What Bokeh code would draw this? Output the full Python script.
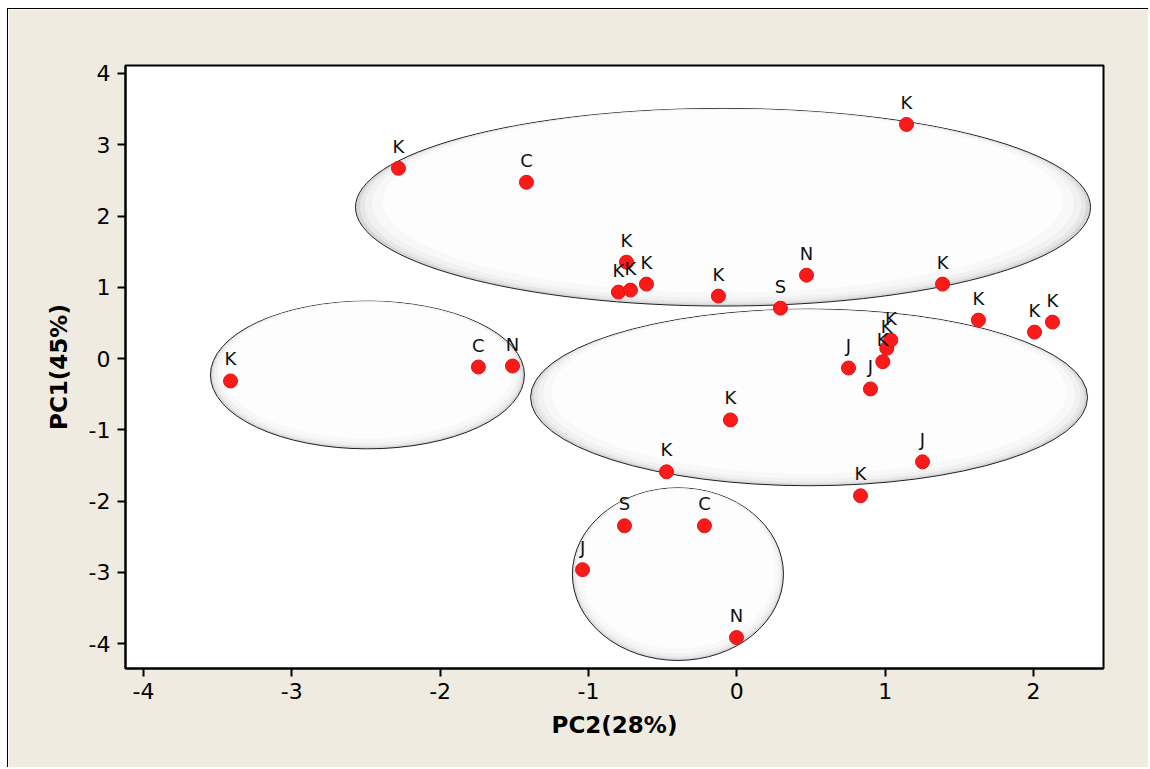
from bokeh.plotting import figure
from bokeh.models import Range1d, ColumnDataSource, FixedTicker
from bokeh.embed import file_html
from bokeh.resources import INLINE
from bokeh.core.properties import value

# data
pc2 = [-3.413, -2.281, -1.418, -1.742, -1.512, -0.744, -0.798, -0.717, -0.609, -0.124,
       0.470, 0.294, 1.144, 1.387, 1.629, 2.007, 2.128, 0.753, 0.901, 0.984, 1.011, 1.038,
       -0.043, -0.474, 1.252, 0.834, -0.757, -0.218, -1.040, -0.002]
pc1 = [-0.315, 2.669, 2.473, -0.119, -0.105, 1.352, 0.932, 0.960, 1.044, 0.876,
       1.170, 0.707, 3.285, 1.044, 0.539, 0.371, 0.511, -0.133, -0.427, -0.045, 0.143, 0.259,
       -0.862, -1.590, -1.450, -1.926, -2.347, -2.347, -2.963, -3.916]
labels = ["K", "K", "C", "C", "N", "K", "K", "K", "K", "K",
          "N", "S", "K", "K", "K", "K", "K", "J", "J", "K", "K", "K",
          "K", "K", "J", "K", "S", "C", "J", "N"]

ell_x = [-0.093, -2.490, 0.487, -0.397]
ell_y = [2.123, -0.231, -0.546, -3.026]
ell_w = [4.955, 2.117, 3.755, 1.423]
ell_h = [2.774, 2.074, 2.480, 2.424]

x_ticks = [-4, -3, -2, -1, 0, 1, 2]
y_ticks = [-4, -3, -2, -1, 0, 1, 2, 3, 4]

BG = "#efebe1"

p = figure(width=1141, height=759, output_backend="svg", toolbar_location=None,
           x_range=Range1d(-4.121, 2.472), y_range=Range1d(-4.35, 4.112),
           min_border_left=117, min_border_top=56, min_border_right=46, min_border_bottom=100)
p.border_fill_color = BG
p.background_fill_color = "white"
p.outline_line_color = "black"
p.outline_line_width = 2
p.grid.visible = False

# ellipses with simulated glossy shading
layers = [(1.0, "#d6d6d8"), (0.988, "#e7e7e9"), (0.975, "#f1f1f2"), (0.955, "#f8f8f9"), (0.925, "#fdfdfd")]
for scale, col in layers:
    src = ColumnDataSource(dict(x=ell_x, y=[yy + (1 - scale) * hh * 0.4 for yy, hh in zip(ell_y, ell_h)],
                                w=[w * scale for w in ell_w], h=[h * scale for h in ell_h]))
    if scale == 1.0:
        p.ellipse(x="x", y="y", width="w", height="h", source=src, fill_color=col,
                  line_color="#222222", line_width=1)
    else:
        p.ellipse(x="x", y="y", width="w", height="h", source=src, fill_color=col,
                  line_color=None)

src = ColumnDataSource(dict(x=pc2, y=pc1, t=labels))
p.scatter(x="x", y="y", source=src, size=14, fill_color="#fa1a1a", line_color="#e81212", line_width=1)
p.text(x="x", y="y", text="t", source=src, text_align="center", text_baseline="alphabetic",
       y_offset=-22, text_font=value("DejaVu Sans"), text_font_size="18px", text_color="#111111")

for ax in (p.xaxis[0], p.yaxis[0]):
    ax.axis_line_width = 2
    ax.axis_line_color = "black"
    ax.major_tick_line_width = 2
    ax.major_tick_line_color = "black"
    ax.major_tick_out = 8
    ax.major_tick_in = 0
    ax.minor_tick_line_color = None
    ax.major_label_text_font = "DejaVu Sans"
    ax.major_label_text_font_size = "22px"
    ax.major_label_text_color = "black"
    ax.axis_label_text_font = "DejaVu Sans"
    ax.axis_label_text_font_size = "23px"
    ax.axis_label_text_font_style = "bold"
    ax.axis_label_text_color = "black"

p.xaxis[0].ticker = FixedTicker(ticks=x_ticks)
p.yaxis[0].ticker = FixedTicker(ticks=y_ticks)
p.xaxis[0].major_label_overrides = {t: str(t) for t in x_ticks}
p.yaxis[0].major_label_overrides = {t: str(t) for t in y_ticks}
p.xaxis[0].axis_label = "PC2(28%)"
p.yaxis[0].axis_label = "PC1(45%)"
p.xaxis[0].major_label_standoff = 6
p.yaxis[0].major_label_standoff = 7
p.xaxis[0].axis_label_standoff = 10
p.yaxis[0].axis_label_standoff = 14

p.styles = {"margin-left": "7px", "margin-top": "8px",
            "border-left": "1.5px solid black", "border-top": "1.5px solid black"}

open("out.html", "w").write(file_html(p, INLINE))
